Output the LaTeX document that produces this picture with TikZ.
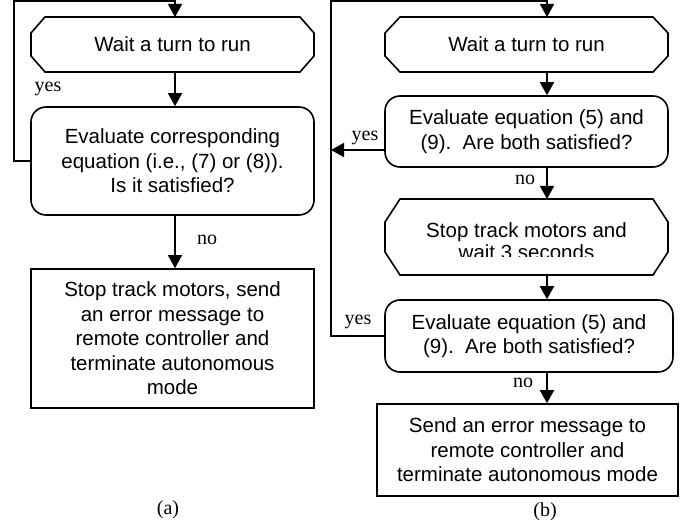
\documentclass[tikz,border=0pt]{standalone}
\usepackage{fontspec}
\setmainfont{Liberation Serif}
\newfontfamily\boxfont{Liberation Sans}
\usetikzlibrary{arrows.meta}

% octagonal "wait" outline around a named rectangular node
\newcommand\chamferoutline[3]{%
  \draw ([xshift=#2]#1.north west) -- ([xshift=-#2]#1.north east)
     -- ([yshift=-#3]#1.north east) -- ([yshift=#3]#1.south east)
     -- ([xshift=-#2]#1.south east) -- ([xshift=#2]#1.south west)
     -- ([yshift=#3]#1.south west) -- ([yshift=-#3]#1.north west) -- cycle;}

\begin{document}
\begin{tikzpicture}[x=1pt,y=-1pt,line width=1.6pt,
  boxtext/.style={inner sep=0pt,align=center,
    font=\boxfont\fontsize{20.5}{24.5}\selectfont},
  box/.style={boxtext,draw,minimum width=283pt},
  waitbox/.style={box,draw=none,outer sep=0pt},
  decision/.style={box,rounded corners=15pt},
  lab/.style={inner sep=0pt,font=\fontsize{20}{22}\selectfont},
  arr/.style={-{Triangle[length=13pt,width=14pt]}}]
\useasboundingbox (0,0) rectangle (691,529);

% ---------- (a) ----------
\coordinate (xa) at (175,0);
\coordinate (cornA) at (14,1);
\node[waitbox,minimum height=55pt] (hexA) at (172.5,44.5) {Wait a turn to run};
\chamferoutline{hexA}{14pt}{16pt}
\node[decision,minimum height=108pt] (decA) at (172.5,161)
  {Evaluate corresponding\\equation (i.e., (7) or (8)).\\Is it satisfied?};
\node[box,minimum height=139pt] (endA) at (172.5,338.5)
  {Stop track motors, send\\an error message to\\remote controller and\\terminate autonomous\\mode};

\draw[arr] (hexA.south -| xa) -- (decA.north -| xa);
\draw[arr] (decA.south -| xa) -- (endA.north -| xa);
\draw[arr] (decA.west) -| (cornA) -| (hexA.north -| xa);

\node[lab] (yesA) at (48,89) {yes};
\node[lab] (noA) at (207,240) {no};
\node[lab] (capA) at (168,510) {(a)};

% ---------- (b) ----------
\coordinate (xb) at (547,0);
\coordinate (xbl) at (331,0);
\coordinate (yb1) at (0,150);
\coordinate (cornB) at (331,1);
\node[waitbox,minimum height=55pt] (hexB1) at (526.5,44.5) {Wait a turn to run};
\chamferoutline{hexB1}{15pt}{16pt}
\node[decision,minimum height=71pt] (decB1) at (526.5,131.5)
  {Evaluate equation (5) and\\(9).\ \ Are both satisfied?};
\node[waitbox,minimum height=76pt] (hexB2) at (526.5,237) {};
\chamferoutline{hexB2}{15pt}{23pt}
\begin{scope}
  \clip (380,199) rectangle (672,257);
  \node[boxtext,font=\boxfont\fontsize{20.5}{22.5}\selectfont] (hexB2txt) at (526.5,241)
    {Stop track motors and\\wait 3 seconds};
\end{scope}
\node[decision,minimum width=288pt,minimum height=72pt] (decB2) at (529,336)
  {Evaluate equation (5) and\\(9).\ \ Are both satisfied?};
\node[box,minimum width=301pt,minimum height=92pt] (endB) at (527.5,450)
  {Send an error message to\\remote controller and\\terminate autonomous mode};

\draw[arr] (hexB1.south -| xb) -- (decB1.north -| xb);
\draw[arr] (decB1.west |- yb1) -- (xbl |- yb1);
\draw[arr] (decB1.south -| xb) -- (hexB2.north -| xb);
\draw[arr] (hexB2.south -| xb) -- (decB2.north -| xb);
\draw[arr] (decB2.south -| xb) -- (endB.north -| xb);
\draw[arr] (decB2.west) -| (cornB) -| (hexB1.north -| xb);

\node[lab] (yesB1) at (365,138) {yes};
\node[lab] (noB1) at (525,180) {no};
\node[lab] (yesB2) at (358,322) {yes};
\node[lab] (noB2) at (523,383) {no};
\node[lab] (capB) at (545,512) {(b)};
\end{tikzpicture}
\end{document}
